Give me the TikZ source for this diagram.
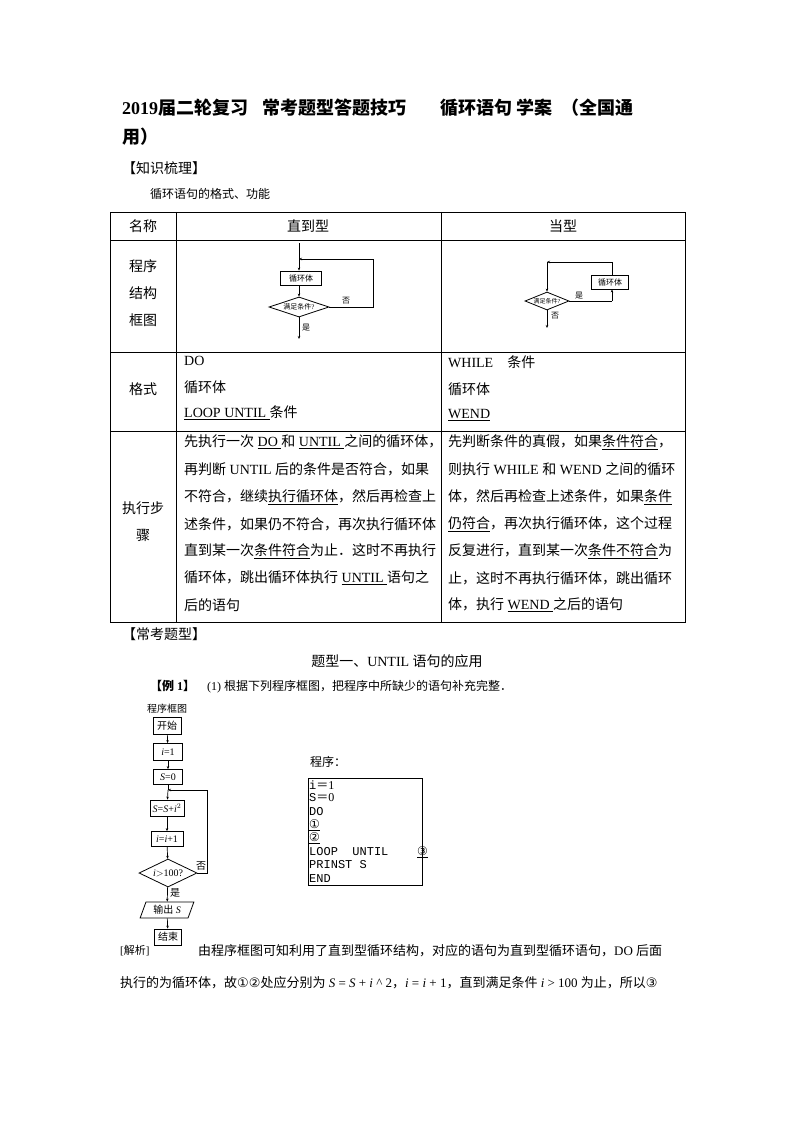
\documentclass[tikz,border=0pt]{standalone}
\usetikzlibrary{shapes.geometric,arrows.meta}
\usepackage{fontspec}
\setmainfont{Liberation Serif}
\setmonofont{Liberation Mono}
\newfontfamily\cjk{Noto Sans CJK SC}
\newfontfamily\symf{DejaVu Sans}
\XeTeXinterchartokenstate=1
\newXeTeXintercharclass\cjkclass
\newcount\cc
\cc="3000 \loop\XeTeXcharclass\cc=\cjkclass \advance\cc 1 \ifnum\cc<"3040 \repeat
\cc="4E00 \loop\XeTeXcharclass\cc=\cjkclass \advance\cc 1 \ifnum\cc<"A000 \repeat
\cc="FF00 \loop\XeTeXcharclass\cc=\cjkclass \advance\cc 1 \ifnum\cc<"FFF0 \repeat
\XeTeXinterchartoks 0 \cjkclass={\cjk}
\XeTeXinterchartoks 4095 \cjkclass={\cjk}
\XeTeXinterchartoks \cjkclass 0={\rmfamily}
\XeTeXinterchartoks \cjkclass 4095={\rmfamily}
\newcommand{\ul}[1]{$\underline{\hbox{#1}}$}
\begin{document}
\begin{tikzpicture}[x=1pt,y=-1pt,
  txt/.style={anchor=west,inner sep=0pt,font=\fontsize{14}{16}\selectfont},
  ctr/.style={inner sep=0pt,font=\fontsize{14}{16}\selectfont},
  sm/.style={inner sep=0pt,font=\fontsize{8}{9}\selectfont},
  fbox/.style={draw,thick,inner sep=0pt,font=\fontsize{8}{9}\selectfont},
  fb2/.style={draw,thick,inner sep=0pt,font=\fontsize{10}{11}\selectfont},
  ln/.style={line width=0.8pt},
  arr/.style={-{Stealth[length=3pt,width=2.5pt]},line width=0.7pt}]
\useasboundingbox (0,0) rectangle (794,1123);
% title
\node[txt,font=\fontsize{18}{20}\selectfont\bfseries] (t1) at (122,108) {2019届二轮复习\hspace{14pt}常考题型答题技巧\hspace{34pt}循环语句 学案 \hspace{4pt}（全国通};
\node[txt,font=\fontsize{18}{20}\selectfont\bfseries] (t2) at (122,137) {用）};
\node[txt] (k1) at (122,168) {【知识梳理】};
\node[txt,font=\fontsize{12}{14}\selectfont] (k2) at (150,194) {循环语句的格式、功能};
% table
\draw[line width=0.8pt] (110,212) rectangle (685,622);
\foreach \y in {240,352,431} \draw[line width=0.8pt] (110,\y) -- (685,\y);
\draw[line width=0.8pt] (176,212) -- (176,622) (441,212) -- (441,622);
\node[ctr] (h1) at (143,226) {名称};
\node[ctr] (h2) at (308,226) {直到型};
\node[ctr] (h3) at (563,226) {当型};
\node[ctr] (r1a) at (143,266) {程序};
\node[ctr] (r1b) at (143,293) {结构};
\node[ctr] (r1c) at (143,320) {框图};
% until chart
\coordinate (ua) at (299,243);
\node[fbox,minimum width=41pt,minimum height=14pt] (ub) at (301,278) {循环体};
\node[draw,thick,diamond,aspect=3,inner sep=0pt,minimum width=60pt,minimum height=20pt,font=\fontsize{7}{8}\selectfont] (ud) at (299,307) {满足条件?};
\coordinate (ue) at (299,339);
\coordinate (ur1) at (373,307);
\coordinate (ur2) at (373,259);
\coordinate (ur3) at (299,259);
\draw[arr] (ua) -- (ub.north -| ua);
\draw[arr] (ub.south -| ud.north) -- (ud.north);
\draw[arr] (ud.south) -- (ue);
\draw[ln] (ud.east) -- (ur1) -- (ur2);
\draw[arr] (ur2) -- (ur3);
\node[sm] (uno) at (346,301) {否};
\node[sm] (uyes) at (306,328) {是};
% while chart
\node[draw,thick,diamond,aspect=2.5,inner sep=0pt,minimum width=44pt,minimum height=18pt,font=\fontsize{6}{7}\selectfont] (wd) at (547,301) {满足条件?};
\node[fbox,minimum width=37pt,minimum height=14pt] (wb) at (610,282) {循环体};
\coordinate (wc1) at (612,301);
\coordinate (wc2) at (612,262);
\coordinate (wc3) at (547,262);
\coordinate (we) at (547,328);
\draw[ln] (wd.east) -- (wc1);
\draw[arr] (wc1) -- (wc1 |- wb.south);
\draw[ln] (wc1 |- wb.north) -- (wc2);
\draw[arr] (wc2) -- (wc3);
\draw[arr] (wc3) -- (wd.north);
\draw[arr] (wd.south) -- (we);
\node[sm] (wyes) at (579,296) {是};
\node[sm] (wno) at (555,316) {否};
% format row
\node[ctr] (f0) at (143,389) {格式};
\node[txt] (f1) at (184,361) {DO};
\node[txt] (f2) at (184,387) {循环体};
\node[txt] (f3) at (184,413) {\ul{LOOP UNTIL }条件};
\node[txt] (g1) at (448,362) {WHILE\quad 条件};
\node[txt] (g2) at (448,389) {循环体};
\node[txt] (g3) at (448,415) {\ul{WEND}};
% steps row
\node[ctr] (s0) at (143,508) {执行步};
\node[ctr] (s0b) at (143,535) {骤};
\node[txt] (a1) at (184,442) {先执行一次 \ul{DO }和 \ul{UNTIL }之间的循环体，};
\node[txt] (a2) at (184,469) {再判断 UNTIL 后的条件是否符合，如果};
\node[txt] (a3) at (184,497) {不符合，继续\ul{执行循环体}，然后再检查上};
\node[txt] (a4) at (184,524) {述条件，如果仍不符合，再次执行循环体};
\node[txt] (a5) at (184,551) {直到某一次\ul{条件符合}为止．这时不再执行};
\node[txt] (a6) at (184,578) {循环体，跳出循环体执行 \ul{UNTIL }语句之};
\node[txt] (a7) at (184,605) {后的语句};
\node[txt] (b1) at (448,442) {先判断条件的真假，如果\ul{条件符合}，};
\node[txt] (b2) at (448,469) {则执行 WHILE 和 WEND 之间的循环};
\node[txt] (b3) at (448,497) {体，然后再检查上述条件，如果\ul{条件}};
\node[txt] (b4) at (448,524) {\ul{仍符合}，再次执行循环体，这个过程};
\node[txt] (b5) at (448,551) {反复进行，直到某一次\ul{条件不符合}为};
\node[txt] (b6) at (448,578) {止，这时不再执行循环体，跳出循环};
\node[txt] (b7) at (448,605) {体，执行 \ul{WEND }之后的语句};
% section 2
\node[txt] (c1) at (122,634) {【常考题型】};
\node[ctr] (c2) at (397,661) {题型一、UNTIL 语句的应用};
\node[txt,font=\fontsize{12}{14}\selectfont] (c3) at (150,687) {\textbf{【例 1】}\quad (1) 根据下列程序框图，把程序中所缺少的语句补充完整．};
% left flowchart
\node[sm,font=\fontsize{10}{11}\selectfont] (p0) at (167,709) {程序框图};
\node[fb2,minimum width=28pt,minimum height=17pt] (p1) at (167,726) {开始};
\node[fb2,minimum width=29pt,minimum height=17pt] (p2) at (168,752) {\textit{i}=1};
\node[fb2,minimum width=29pt,minimum height=15pt] (p3) at (168,777) {\textit{S}=0};
\coordinate (pj) at (168,790);
\node[fb2,minimum width=34pt,minimum height=16pt] (p4) at (167,808) {\textit{S}=\textit{S}+\textit{i}$^2$};
\node[fb2,minimum width=32pt,minimum height=15pt] (p5) at (167,839) {\textit{i}=\textit{i}+1};
\node[draw,thick,diamond,aspect=2,inner sep=0pt,minimum width=58pt,minimum height=28pt,font=\fontsize{10}{11}\selectfont] (p6) at (168,873) {\textit{i}$>$100?};
\node[draw,thick,trapezium,trapezium left angle=70,trapezium right angle=110,inner sep=1pt,minimum height=16pt,minimum width=40pt,font=\fontsize{10}{11}\selectfont] (p7) at (167,910) {输出 \textit{S}};
\node[fb2,minimum width=27pt,minimum height=16pt] (p8) at (168,937) {结束};
\coordinate (pr1) at (207,873);
\coordinate (pr2) at (207,790);
\draw[arr] (p1) -- (p2);
\draw[arr] (p2) -- (p3);
\draw[ln] (p3) -- (pj);
\draw[arr] (pj) -- (p4);
\draw[arr] (p4) -- (p5);
\draw[arr] (p5) -- (p6);
\draw[arr] (p6) -- (p7);
\draw[arr] (p7) -- (p8);
\draw[ln] (p6.east) -- (pr1) -- (pr2);
\draw[arr] (pr2) -- (pj);
\node[sm,font=\fontsize{10}{11}\selectfont] (pno) at (201,866) {否};
\node[sm,font=\fontsize{10}{11}\selectfont] (pyes) at (175,893) {是};
% program
\node[txt,font=\fontsize{12}{14}\selectfont] (q0) at (310,762) {程序：};
\node[draw,thick,minimum width=114pt,minimum height=107pt,inner sep=0pt] (qb) at (365,831.5) {};
\foreach \t/\y [count=\k] in {{i＝1}/785,{S＝0}/798,{DO}/812,{\ul{\symf ①}}/825,{\ul{\symf ②}}/838,{LOOP\ \ UNTIL\ \ \ \ \ul{\symf ③}}/852,{PRINST S}/865,{END}/879}
  \node[anchor=west,inner sep=0pt,font=\ttfamily\fontsize{12}{12}\selectfont] (ql\k) at (309,\y) {\t};
% solution text
\node[txt,font=\fontsize{11}{13}\selectfont] (j0) at (120,951) {[解析]};
\node[txt,font=\fontsize{13}{15}\selectfont] (j1) at (198,951) {由程序框图可知利用了直到型循环结构，对应的语句为直到型循环语句，DO 后面};
\node[txt,font=\fontsize{13}{15}\selectfont] (j2) at (120,983) {执行的为循环体，故{\symf ①②}处应分别为 \textit{S} = \textit{S} + \textit{i} \^{} 2，\textit{i} = \textit{i} + 1，直到满足条件 \textit{i} > 100 为止，所以{\symf ③}};
\end{tikzpicture}
\end{document}
